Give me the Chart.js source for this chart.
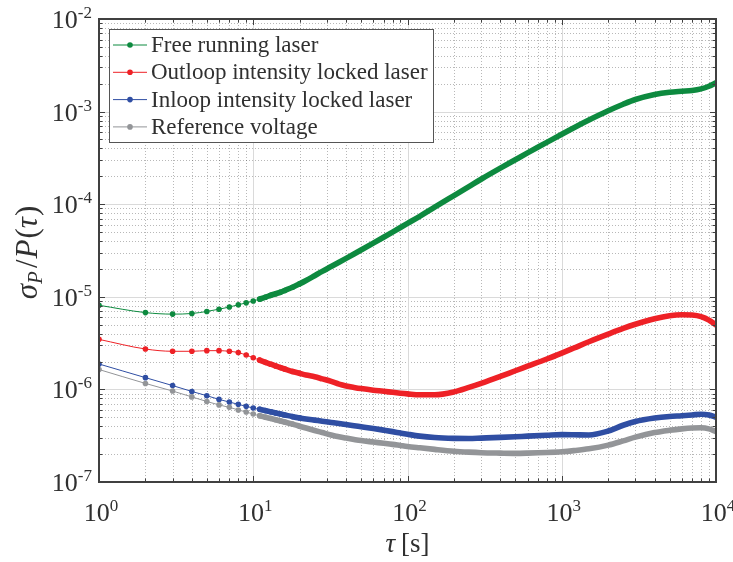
<!DOCTYPE html>
<html>
<head>
<meta charset="utf-8">
<script src="https://cdn.jsdelivr.net/npm/chart.js@4.4.1/dist/chart.umd.min.js"></script>
<style>
  body { margin: 0; background: #fff; }
  canvas { display: block; }
</style>
</head>
<body>
<canvas id="chart" width="733" height="562"></canvas>
<script>
// averaging time tau [s]
const tau = [1,2,3,4,5,6,7,8,9,10,11,12,13,14,15,16,18,20,22,25,28,32,36,40,45,50,60,70,80,90,
  100,120,150,200,250,300,400,500,600,800,1000,1200,1500,2000,2500,3000,4000,5000,6000,7000,8000,9000,10000];

// relative deviation sigma_P / P for each measurement
const free_running = [8.1e-6,6.75e-6,6.5e-6,6.6e-6,6.95e-6,7.35e-6,7.75e-6,8.2e-6,8.6e-6,9.0e-6,9.45e-6,9.9e-6,1.04e-5,1.08e-5,1.12e-5,1.17e-5,1.27e-5,1.38e-5,1.5e-5,1.69e-5,1.88e-5,2.12e-5,2.36e-5,2.6e-5,2.9e-5,3.2e-5,3.8e-5,4.4e-5,5.0e-5,5.6e-5,
  6.2e-5,7.4e-5,9.3e-5,1.24e-4,1.55e-4,1.86e-4,2.45e-4,3.02e-4,3.58e-4,4.65e-4,5.7e-4,6.7e-4,8.1e-4,1.02e-3,1.2e-3,1.35e-3,1.53e-3,1.62e-3,1.66e-3,1.69e-3,1.76e-3,1.88e-3,2.05e-3];
const outloop = [3.47e-6,2.73e-6,2.58e-6,2.58e-6,2.62e-6,2.62e-6,2.58e-6,2.5e-6,2.35e-6,2.2e-6,2.07e-6,1.96e-6,1.87e-6,1.79e-6,1.72e-6,1.66e-6,1.56e-6,1.49e-6,1.43e-6,1.37e-6,1.3e-6,1.22e-6,1.14e-6,1.09e-6,1.05e-6,1.02e-6,9.8e-7,9.55e-7,9.3e-7,9.1e-7,
  8.95e-7,8.75e-7,8.75e-7,9.4e-7,1.05e-6,1.16e-6,1.38e-6,1.59e-6,1.78e-6,2.13e-6,2.47e-6,2.8e-6,3.27e-6,3.95e-6,4.55e-6,5.05e-6,5.8e-6,6.25e-6,6.4e-6,6.35e-6,6.1e-6,5.6e-6,4.95e-6];
const inloop = [1.88e-6,1.34e-6,1.1e-6,9.5e-7,8.55e-7,7.8e-7,7.3e-7,6.9e-7,6.56e-7,6.3e-7,6.1e-7,5.9e-7,5.72e-7,5.56e-7,5.42e-7,5.3e-7,5.08e-7,4.92e-7,4.8e-7,4.66e-7,4.54e-7,4.4e-7,4.28e-7,4.17e-7,4.05e-7,3.95e-7,3.78e-7,3.63e-7,3.5e-7,3.38e-7,
  3.28e-7,3.13e-7,3.02e-7,2.96e-7,2.95e-7,2.98e-7,3.03e-7,3.08e-7,3.13e-7,3.2e-7,3.25e-7,3.24e-7,3.22e-7,3.55e-7,4.1e-7,4.5e-7,4.9e-7,5.1e-7,5.2e-7,5.3e-7,5.4e-7,5.3e-7,5.0e-7];
const reference = [1.64e-6,1.16e-6,9.6e-7,8.3e-7,7.4e-7,6.8e-7,6.4e-7,6.0e-7,5.7e-7,5.42e-7,5.2e-7,5.0e-7,4.85e-7,4.7e-7,4.57e-7,4.45e-7,4.22e-7,4.0e-7,3.83e-7,3.6e-7,3.42e-7,3.22e-7,3.08e-7,2.98e-7,2.88e-7,2.8e-7,2.7e-7,2.62e-7,2.55e-7,2.48e-7,
  2.42e-7,2.34e-7,2.25e-7,2.15e-7,2.1e-7,2.07e-7,2.05e-7,2.04e-7,2.05e-7,2.08e-7,2.12e-7,2.18e-7,2.28e-7,2.5e-7,2.78e-7,3.05e-7,3.42e-7,3.62e-7,3.75e-7,3.83e-7,3.85e-7,3.75e-7,3.5e-7];

const series_names = ['Free running laser', 'Outloop intensity locked laser', 'Inloop intensity locked laser', 'Reference voltage'];
const series_values = [free_running, outloop, inloop, reference];
const series_colors = ['#0d8a3f', '#ee2126', '#2f4ea3', '#939598'];

// axis decades and their exponent labels
const x_decades = [1, 10, 100, 1000, 10000];
const x_exps = ['0', '1', '2', '3', '4'];
const y_decades = [1e-7, 1e-6, 1e-5, 1e-4, 1e-3, 1e-2];
const y_exps = ['-7', '-6', '-5', '-4', '-3', '-2'];

const SERIF = '"Liberation Serif", "DejaVu Serif", serif';
const TEXT = '#303030';
const AXIS = '#404040';

// minor values 2..9 inside each decade
function minors(decades) {
  const out = [];
  for (let i = 0; i < decades.length - 1; i++) {
    for (let k = 2; k <= 9; k++) out.push(k * decades[i]);
  }
  return out;
}

// "10" with a raised exponent
function powLabel(ctx, exp, x, y, align) {
  ctx.font = '26px ' + SERIF;
  const wb = ctx.measureText('10').width;
  ctx.font = '17px ' + SERIF;
  const we = ctx.measureText(exp).width;
  let left = align == 'center' ? x - (wb + we) / 2 : x - wb - we;
  ctx.textAlign = 'left';
  ctx.textBaseline = 'alphabetic';
  ctx.fillStyle = TEXT;
  ctx.font = '26px ' + SERIF;
  ctx.fillText('10', left, y);
  ctx.font = '17px ' + SERIF;
  ctx.fillText(exp, left + wb, y - 10);
}

// draw text pieces (math style) in a row, centred on x
function drawPieces(ctx, pieces, cx, y) {
  let total = 0;
  for (let p of pieces) {
    ctx.font = (p.it ? 'italic ' : '') + p.size + 'px ' + SERIF;
    p.w = ctx.measureText(p.t).width;
    total += p.w + (p.gap || 0);
  }
  let x = cx - total / 2;
  ctx.textAlign = 'left';
  ctx.textBaseline = 'alphabetic';
  ctx.fillStyle = TEXT;
  for (let p of pieces) {
    ctx.font = (p.it ? 'italic ' : '') + p.size + 'px ' + SERIF;
    ctx.fillText(p.t, x, y + (p.dy || 0));
    x += p.w + (p.gap || 0);
  }
}

const gridPlugin = {
  id: 'matlabGrid',
  beforeDatasetsDraw(chart) {
    const {ctx, chartArea: a, scales: {x, y}} = chart;
    ctx.save();
    ctx.lineWidth = 1;
    // minor dotted grid
    ctx.strokeStyle = 'rgba(0,0,0,0.28)';
    ctx.setLineDash([1, 2]);
    for (let v of minors(x_decades)) {
      const px = Math.round(x.getPixelForValue(v)) + 0.5;
      ctx.beginPath(); ctx.moveTo(px, a.top); ctx.lineTo(px, a.bottom); ctx.stroke();
    }
    for (let v of minors(y_decades)) {
      const py = Math.round(y.getPixelForValue(v)) + 0.5;
      ctx.beginPath(); ctx.moveTo(a.left, py); ctx.lineTo(a.right, py); ctx.stroke();
    }
    // major solid grid
    ctx.setLineDash([]);
    ctx.strokeStyle = '#dadada';
    for (let v of x_decades) {
      const px = Math.round(x.getPixelForValue(v)) + 0.5;
      ctx.beginPath(); ctx.moveTo(px, a.top); ctx.lineTo(px, a.bottom); ctx.stroke();
    }
    for (let v of y_decades) {
      const py = Math.round(y.getPixelForValue(v)) + 0.5;
      ctx.beginPath(); ctx.moveTo(a.left, py); ctx.lineTo(a.right, py); ctx.stroke();
    }
    ctx.restore();
  },
  afterDatasetsDraw(chart) {
    const {ctx, chartArea: a, scales: {x, y}} = chart;
    ctx.save();
    // inward ticks on all four sides
    ctx.strokeStyle = AXIS;
    ctx.lineWidth = 1;
    const xt = x_decades.map(v => [v, 6]).concat(minors(x_decades).map(v => [v, 3.5]));
    for (let [v, len] of xt) {
      const px = Math.round(x.getPixelForValue(v)) + 0.5;
      ctx.beginPath();
      ctx.moveTo(px, a.bottom); ctx.lineTo(px, a.bottom - len);
      ctx.moveTo(px, a.top); ctx.lineTo(px, a.top + len);
      ctx.stroke();
    }
    const yt = y_decades.map(v => [v, 6]).concat(minors(y_decades).map(v => [v, 3.5]));
    for (let [v, len] of yt) {
      const py = Math.round(y.getPixelForValue(v)) + 0.5;
      ctx.beginPath();
      ctx.moveTo(a.left, py); ctx.lineTo(a.left + len, py);
      ctx.moveTo(a.right, py); ctx.lineTo(a.right - len, py);
      ctx.stroke();
    }
    // axis box
    ctx.lineWidth = 2;
    ctx.strokeRect(a.left, a.top, a.right - a.left, a.bottom - a.top);

    // tick labels
    x_decades.forEach((v, i) => powLabel(ctx, x_exps[i], x.getPixelForValue(v) + 2, a.bottom + 39, 'center'));
    y_decades.forEach((v, i) => powLabel(ctx, y_exps[i], a.left - 7, y.getPixelForValue(v) + 9, 'right'));

    // axis titles
    drawPieces(ctx, [
      {t: '\u03C4', it: true, size: 27, gap: 6},
      {t: '[s]', size: 27}
    ], (a.left + a.right) / 2, 552);
    ctx.save();
    ctx.translate(37, (a.top + a.bottom) / 2 + 2);
    ctx.rotate(-Math.PI / 2);
    drawPieces(ctx, [
      {t: '\u03C3', it: true, size: 31},
      {t: 'P', it: true, size: 21, dy: 5, gap: 3},
      {t: '/', size: 31, gap: 1},
      {t: 'P', it: true, size: 31, gap: 1},
      {t: '(', size: 31},
      {t: '\u03C4', it: true, size: 31, gap: 1},
      {t: ')', size: 31}
    ], 0, 0);
    ctx.restore();

    // legend box in the upper left corner
    const lx = 109, ly = 29, lw = 324, lh = 113;
    ctx.fillStyle = '#fff';
    ctx.fillRect(lx, ly, lw, lh);
    ctx.strokeStyle = '#555';
    ctx.lineWidth = 1;
    ctx.strokeRect(lx + 0.5, ly + 0.5, lw, lh);
    series_names.forEach((name, i) => {
      const cy = 45 + i * 27.3;
      ctx.strokeStyle = series_colors[i];
      ctx.lineWidth = 1;
      ctx.beginPath(); ctx.moveTo(113, cy); ctx.lineTo(147, cy); ctx.stroke();
      ctx.fillStyle = series_colors[i];
      ctx.beginPath(); ctx.arc(130, cy, 2.8, 0, Math.PI * 2); ctx.fill();
      ctx.fillStyle = TEXT;
      ctx.font = '23px ' + SERIF;
      ctx.textAlign = 'left';
      ctx.textBaseline = 'alphabetic';
      ctx.fillText(name, 151, cy + 7);
    });
    ctx.restore();
  }
};

const datasets = series_names.map((name, i) => ({
  label: name,
  data: tau.map((t, j) => ({x: t, y: series_values[i][j]})),
  borderColor: series_colors[i],
  backgroundColor: series_colors[i],
  borderWidth: 1,
  borderCapStyle: 'round',
  borderJoinStyle: 'round',
  cubicInterpolationMode: 'monotone',
  // separate markers at short tau, they merge into a band further on
  pointRadius: ctx => (ctx.raw && ctx.raw.x <= 20 ? 2.8 : 0),
  pointBorderWidth: 0,
  segment: {
    borderWidth: ctx => (ctx.p0.parsed.x >= 11 ? 5.6 : 1)
  }
}));

// draw bottom series first so green ends up on top like the original
datasets.reverse();

new Chart(document.querySelector('#chart'), {
  type: 'line',
  data: {datasets: datasets},
  options: {
    responsive: false,
    animation: false,
    layout: {padding: {left: 99, right: 17, top: 19, bottom: 80}},
    plugins: {legend: {display: false}, tooltip: {enabled: false}},
    scales: {
      x: {type: 'logarithmic', min: 1, max: 10000, display: false},
      y: {type: 'logarithmic', min: 1e-7, max: 1e-2, display: false}
    }
  },
  plugins: [gridPlugin]
});
</script>
</body>
</html>
